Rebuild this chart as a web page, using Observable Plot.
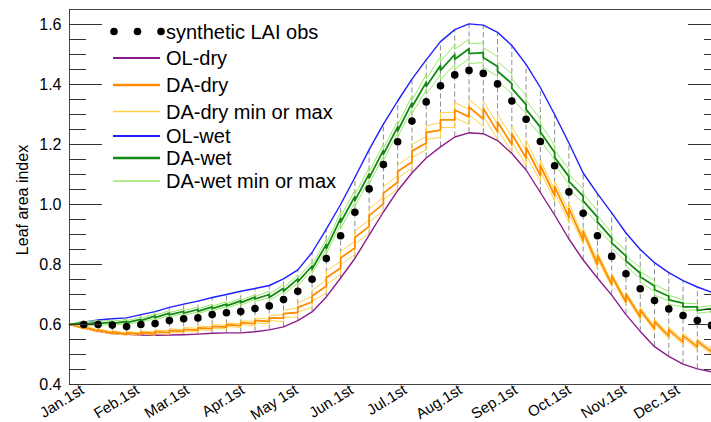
<!DOCTYPE html>
<html><head><meta charset="utf-8">
<script src="https://cdn.jsdelivr.net/npm/d3@7"></script>
<script src="https://cdn.jsdelivr.net/npm/@observablehq/plot@0.6"></script>
<style>
html,body{margin:0;padding:0;background:#fff;overflow:hidden;width:711px;height:422px;}
#wrap{position:relative;width:711px;height:422px;overflow:hidden;font-family:'Liberation Sans',Arial,sans-serif;}
#wrap svg{display:block;max-width:none !important;}
#legend{position:absolute;left:0;top:0;}
</style></head><body><div id="wrap"></div>
<script>
// day-of-year nodes (start, assimilation dates, end)
const nodeDays = [0,8,16,24,32,40,48,56,64,72,80,88,96,104,112,120,128,136,144,152,160,168,176,184,192,200,208,216,224,232,240,248,256,264,272,280,288,296,304,312,320,328,336,344,352,360,365];
// synthetic LAI observation dates and values
const obsDays = [8,16,24,32,40,48,56,64,72,80,88,96,104,112,120,128,136,144,152,160,168,176,184,192,200,208,216,224,232,240,248,256,264,272,280,288,296,304,312,320,328,336,344,352,360];
const obsLAI = [0.600,0.600,0.598,0.593,0.600,0.603,0.613,0.619,0.622,0.633,0.639,0.643,0.653,0.662,0.683,0.711,0.751,0.820,0.896,0.974,1.052,1.133,1.209,1.278,1.342,1.396,1.432,1.447,1.437,1.402,1.345,1.284,1.210,1.129,1.042,0.971,0.896,0.827,0.769,0.719,0.680,0.652,0.630,0.613,0.597];
// open loop runs
const olWet = [0.600,0.608,0.615,0.619,0.622,0.633,0.643,0.657,0.668,0.678,0.690,0.700,0.711,0.720,0.730,0.752,0.782,0.840,0.918,1.000,1.090,1.183,1.268,1.345,1.418,1.482,1.543,1.583,1.602,1.598,1.574,1.530,1.467,1.390,1.300,1.205,1.105,1.036,0.972,0.905,0.850,0.806,0.773,0.746,0.725,0.708,0.699];
const olDry = [0.600,0.588,0.577,0.570,0.567,0.565,0.564,0.565,0.566,0.568,0.571,0.572,0.572,0.576,0.582,0.592,0.613,0.642,0.692,0.755,0.820,0.898,0.975,1.046,1.105,1.155,1.192,1.225,1.239,1.236,1.213,1.170,1.115,1.040,0.965,0.885,0.815,0.755,0.698,0.633,0.577,0.526,0.494,0.468,0.452,0.442,0.437];
// DA-dry: value just before / just after each analysis
const dryPre  = [0.600,0.588,0.578,0.571,0.568,0.569,0.570,0.573,0.577,0.581,0.586,0.591,0.596,0.603,0.610,0.621,0.640,0.675,0.728,0.788,0.855,0.927,1.002,1.074,1.142,1.205,1.248,1.282,1.292,1.285,1.242,1.200,1.155,1.096,1.030,0.957,0.880,0.800,0.734,0.675,0.625,0.586,0.561,0.541,0.525,0.508,0.512];
const dryPost = [0.600,0.592,0.582,0.575,0.572,0.574,0.576,0.580,0.584,0.589,0.594,0.600,0.606,0.614,0.622,0.636,0.657,0.695,0.756,0.822,0.890,0.963,1.038,1.110,1.178,1.240,1.282,1.315,1.325,1.320,1.275,1.235,1.190,1.130,1.060,0.987,0.910,0.830,0.762,0.701,0.649,0.610,0.583,0.563,0.545,0.528,0.512];
const dryMaxPre  = [0.600,0.592,0.582,0.575,0.572,0.573,0.576,0.579,0.583,0.587,0.592,0.597,0.602,0.611,0.618,0.633,0.655,0.693,0.750,0.810,0.877,0.949,1.024,1.096,1.164,1.227,1.273,1.307,1.317,1.310,1.267,1.225,1.180,1.114,1.048,0.975,0.892,0.812,0.742,0.683,0.633,0.594,0.569,0.549,0.533,0.516,0.520];
const dryMaxPost = [0.600,0.596,0.586,0.579,0.576,0.578,0.582,0.586,0.590,0.595,0.600,0.606,0.612,0.622,0.630,0.648,0.672,0.713,0.778,0.844,0.912,0.985,1.060,1.132,1.200,1.262,1.307,1.340,1.350,1.345,1.300,1.260,1.215,1.148,1.078,1.005,0.922,0.842,0.770,0.709,0.657,0.618,0.591,0.571,0.553,0.536,0.520];
const dryMinPre  = [0.600,0.584,0.574,0.567,0.564,0.565,0.564,0.567,0.571,0.575,0.580,0.585,0.590,0.595,0.602,0.609,0.625,0.657,0.706,0.766,0.833,0.905,0.980,1.052,1.120,1.183,1.223,1.257,1.267,1.260,1.217,1.175,1.130,1.078,1.012,0.939,0.868,0.788,0.726,0.667,0.617,0.578,0.553,0.533,0.517,0.500,0.504];
const dryMinPost = [0.600,0.588,0.578,0.571,0.568,0.570,0.570,0.574,0.578,0.583,0.588,0.594,0.600,0.606,0.614,0.624,0.642,0.677,0.734,0.800,0.868,0.941,1.016,1.088,1.156,1.218,1.257,1.290,1.300,1.295,1.250,1.210,1.165,1.112,1.042,0.969,0.898,0.818,0.754,0.693,0.641,0.602,0.575,0.555,0.537,0.520,0.504];
// DA-wet
const wetPre  = [0.600,0.605,0.607,0.608,0.610,0.617,0.629,0.638,0.644,0.650,0.659,0.668,0.679,0.691,0.700,0.721,0.752,0.795,0.867,0.954,1.027,1.102,1.181,1.259,1.339,1.407,1.463,1.500,1.519,1.506,1.460,1.403,1.333,1.258,1.173,1.093,1.028,0.958,0.888,0.828,0.771,0.728,0.694,0.671,0.659,0.653,0.642];
const wetPost = [0.600,0.601,0.603,0.604,0.606,0.613,0.623,0.632,0.638,0.644,0.653,0.662,0.673,0.685,0.690,0.711,0.742,0.785,0.853,0.940,1.013,1.088,1.167,1.245,1.325,1.393,1.447,1.484,1.503,1.490,1.444,1.387,1.317,1.242,1.157,1.077,1.012,0.942,0.872,0.812,0.759,0.716,0.682,0.659,0.647,0.641,0.642];
const wetMaxPre  = [0.600,0.612,0.614,0.615,0.617,0.624,0.637,0.646,0.652,0.658,0.667,0.676,0.687,0.699,0.711,0.733,0.765,0.809,0.884,0.974,1.047,1.122,1.201,1.279,1.361,1.433,1.493,1.533,1.552,1.539,1.493,1.436,1.363,1.285,1.197,1.117,1.052,0.979,0.906,0.846,0.789,0.746,0.709,0.683,0.669,0.663,0.652];
const wetMaxPost = [0.600,0.608,0.610,0.611,0.613,0.620,0.631,0.640,0.646,0.652,0.661,0.670,0.681,0.693,0.701,0.723,0.755,0.799,0.870,0.960,1.033,1.108,1.187,1.265,1.347,1.419,1.477,1.517,1.536,1.523,1.477,1.420,1.347,1.269,1.181,1.101,1.036,0.963,0.890,0.830,0.777,0.734,0.697,0.671,0.657,0.651,0.652];
const wetMinPre  = [0.600,0.598,0.600,0.601,0.603,0.610,0.621,0.630,0.636,0.642,0.651,0.660,0.671,0.683,0.689,0.709,0.739,0.781,0.850,0.934,1.007,1.082,1.161,1.239,1.317,1.381,1.433,1.467,1.486,1.473,1.427,1.370,1.303,1.231,1.149,1.069,1.004,0.937,0.870,0.810,0.753,0.710,0.679,0.659,0.649,0.643,0.632];
const wetMinPost = [0.600,0.594,0.596,0.597,0.599,0.606,0.615,0.624,0.630,0.636,0.645,0.654,0.665,0.677,0.679,0.699,0.729,0.771,0.836,0.920,0.993,1.068,1.147,1.225,1.303,1.367,1.417,1.451,1.470,1.457,1.411,1.354,1.287,1.215,1.133,1.053,0.988,0.921,0.854,0.794,0.741,0.698,0.667,0.647,0.637,0.631,0.632];
// axis ticks
const monthDays = [0,31,59,90,120,151,181,212,243,273,304,334];
const monthLabels = ["Jan.1st","Feb.1st","Mar.1st","Apr.1st","May 1st","Jun.1st","Jul.1st","Aug.1st","Sep.1st","Oct.1st","Nov.1st","Dec.1st"];
const yMajor = [0.4,0.6,0.8,1.0,1.2,1.4,1.6];
const yMinor = [0.45,0.5,0.55,0.65,0.7,0.75,0.85,0.9,0.95,1.05,1.1,1.15,1.25,1.3,1.35,1.45,1.5,1.55];
const yLabel = "Leaf area index";

const C = {olDry:"#8b1c8b", daDry:"#ff8c00", dryMM:"#ffd247", olWet:"#1f1fff", daWet:"#138a13", wetMM:"#9be86a"};

const smooth = v => nodeDays.map((d,i)=>({x:d,y:v[i]}));
const saw = (pre, post) => nodeDays.flatMap((d,i)=>[{x:d,y:pre[i]},{x:d,y:post[i]}]);
const obs = obsDays.map((d,i)=>({x:d,y:obsLAI[i]}));
const spans = obsDays.map((d,i)=>({x:d,y1:olDry[nodeDays.indexOf(d)],y2:olWet[nodeDays.indexOf(d)]}));
const months = monthDays.map((d,i)=>({x:d,label:monthLabels[i]}));

const chart = Plot.plot({
  width: 725, height: 422,
  marginLeft: 69, marginRight: 5, marginTop: 9, marginBottom: 38,
  x: {domain:[0,365], axis:null, label:null},
  y: {domain:[0.4,1.65], axis:null, label:null},
  style: {fontFamily:"'Liberation Sans',Arial,sans-serif", color:"#000", background:"#fff", overflow:"visible", maxWidth:"none"},
  marks: [
    Plot.ruleX(spans, {x:"x", y1:"y1", y2:"y2", stroke:"#8c8c8c", strokeWidth:1, strokeDasharray:"5,3"}),
    Plot.line(smooth(olDry), {x:"x", y:"y", stroke:C.olDry, strokeWidth:1.4}),
    Plot.line(smooth(olWet), {x:"x", y:"y", stroke:C.olWet, strokeWidth:1.4}),
    Plot.line(saw(dryMinPre,dryMinPost), {x:"x", y:"y", stroke:C.dryMM, strokeWidth:1}),
    Plot.line(saw(dryMaxPre,dryMaxPost), {x:"x", y:"y", stroke:C.dryMM, strokeWidth:1}),
    Plot.line(saw(dryPre,dryPost), {x:"x", y:"y", stroke:C.daDry, strokeWidth:1.8}),
    Plot.line(saw(wetMinPre,wetMinPost), {x:"x", y:"y", stroke:C.wetMM, strokeWidth:1}),
    Plot.line(saw(wetMaxPre,wetMaxPost), {x:"x", y:"y", stroke:C.wetMM, strokeWidth:1}),
    Plot.line(saw(wetPre,wetPost), {x:"x", y:"y", stroke:C.daWet, strokeWidth:1.8}),
    Plot.dot(obs, {x:"x", y:"y", r:3.8, fill:"#000", stroke:"none"}),
    Plot.frame({stroke:"#444", strokeWidth:1}),
    Plot.axisY(yMajor, {anchor:"left", tickSize:-33, tickPadding:41, tickFormat:d=>d.toFixed(1), fontSize:16, stroke:"#333", label:null}),
    Plot.axisY(yMinor, {anchor:"left", tickSize:-17, tickFormat:()=>"", stroke:"#333", label:null}),
    Plot.axisY(yMajor, {anchor:"right", tickSize:-33, tickFormat:()=>"", stroke:"#333", label:null}),
    Plot.axisY(yMinor, {anchor:"right", tickSize:-17, tickFormat:()=>"", stroke:"#333", label:null}),
    Plot.text(months, {x:"x", text:"label", frameAnchor:"bottom", textAnchor:"end", lineAnchor:"middle", rotate:-32, dx:13, dy:4, fontSize:15, fill:"#000"}),
    Plot.text([yLabel], {text:d=>d, frameAnchor:"left", rotate:-90, dx:-47, dy:3, textAnchor:"middle", lineAnchor:"middle", fontSize:16, fill:"#000"})
  ]
});
chart.style.maxWidth = "none";
chart.style.width = "725px";
chart.style.height = "422px";
document.getElementById("wrap").appendChild(chart);

// legend overlay
const legendItems = [
  {label:"synthetic LAI obs", type:"dots", y:31.5},
  {label:"OL-dry", color:C.olDry, w:2, y:58},
  {label:"DA-dry", color:C.daDry, w:2.6, y:85},
  {label:"DA-dry min or max", color:C.dryMM, w:1.3, y:111.5},
  {label:"OL-wet", color:C.olWet, w:2, y:136},
  {label:"DA-wet", color:C.daWet, w:2.6, y:158},
  {label:"DA-wet min or max", color:C.wetMM, w:1.5, y:181}
];
const lg = d3.select("#wrap").append("svg").attr("id","legend").attr("width",380).attr("height",200);
legendItems.forEach(it=>{
  if (it.type==="dots") {
    [114,137.5,161].forEach(cx=>lg.append("circle").attr("cx",cx).attr("cy",it.y).attr("r",3.8).attr("fill","#000"));
  } else {
    lg.append("line").attr("x1",113).attr("x2",160).attr("y1",it.y).attr("y2",it.y).attr("stroke",it.color).attr("stroke-width",it.w);
  }
  lg.append("text").attr("x",166).attr("y",it.y).attr("dy","0.35em").attr("font-size",20).attr("font-family","'Liberation Sans',Arial,sans-serif").attr("fill","#000").text(it.label);
});
</script></body></html>
